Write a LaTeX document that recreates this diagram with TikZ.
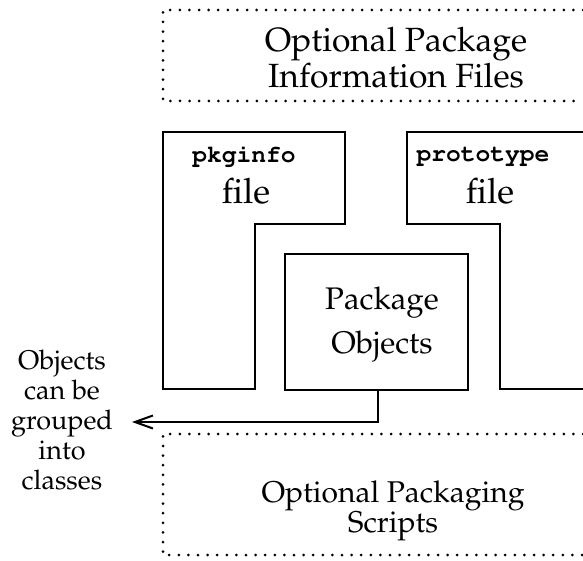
\documentclass[tikz,border=0pt]{standalone}
\usepackage[T1]{fontenc}
\usepackage{mathpazo}
\usepackage{courier}
\usetikzlibrary{arrows.meta}
\begin{document}
\begin{tikzpicture}[x=0.5pt,y=-0.5pt,
  dotline/.style={line width=1.5pt,dash pattern=on 0pt off 4.8pt,line cap=round},
  solid outline/.style={line width=1.1pt,line join=miter},
  toptext/.style={align=center,font=\fontsize{16.8}{15.5}\selectfont},
  bottomtext/.style={align=center,font=\fontsize{15}{15}\selectfont},
  boxtext/.style={align=center,font=\fontsize{15.6}{22}\selectfont},
  notetext/.style={align=center,font=\fontsize{13.5}{15}\selectfont},
  ttlabel/.style={font=\fontsize{12.3}{13}\fontfamily{pcr}\fontseries{b}\selectfont},
  filelabel/.style={font=\fontsize{17.5}{18}\selectfont}]
\useasboundingbox (0,0) rectangle (583,561);

% optional package information files (open on the right)
\draw[dotline] (583,10) -- (163,10) -- (163,101) -- (583,101);
\node[toptext] (info) at (396,58) {Optional Package\\Information Files};

% pkginfo file outline
\draw[solid outline] (163,132) -- (345,132) -- (345,224) -- (255,224)
  -- (255,389) -- (163,389) -- cycle;
\node[ttlabel] (pkginfo) at (244,156) {pkginfo};
\node[filelabel] (pkgfile) at (246,191) {file};

% prototype file outline (open on the right)
\draw[solid outline] (583,132) -- (407,132) -- (407,224) -- (500,224)
  -- (500,389) -- (583,389);
\node[ttlabel] (proto) at (483,156) {prototype};
\node[filelabel] (protofile) at (490,191) {file};

% package objects
\node[draw,solid outline,minimum width=91.5pt,minimum height=68pt,
  inner sep=0pt] (pobj) at (376.5,322) {};
\node[boxtext] (pobjtext) at (382,325) {Package\\Objects};

% note on grouping
\node[notetext] (note) at (62,420) {Objects\\can be\\grouped\\into\\classes};
\coordinate (tip) at (132,422);
\draw[line width=1.1pt,-{Straight Barb[length=9pt,width=6.5pt,line width=1pt]}]
  ([xshift=0.8pt]pobj.south) |- (tip);

% optional packaging scripts (open on the right)
\draw[dotline] (583,434) -- (163,434) -- (163,555) -- (583,555);
\node[bottomtext] (scripts) at (393,511) {Optional Packaging\\Scripts};
\end{tikzpicture}
\end{document}
